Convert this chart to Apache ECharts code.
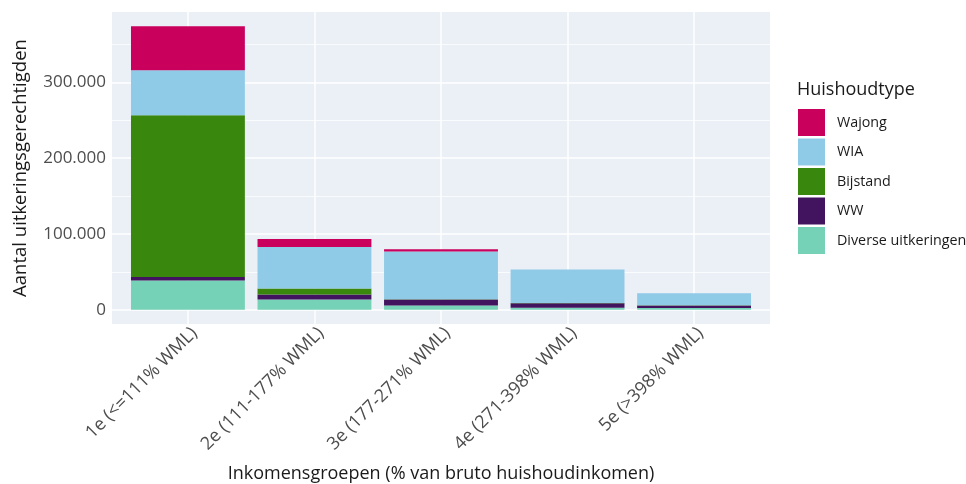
<!DOCTYPE html>
<html><head><meta charset="utf-8">
<script src="https://cdn.jsdelivr.net/npm/echarts@6/dist/echarts.min.js"></script>
<style>html,body{margin:0;padding:0;background:#fff}#c{width:966px;height:484px}</style>
</head><body><div id="c"></div>
<script>
// ---- data ----
const categories = ['1e (<=111% WML)', '2e (111-177% WML)', '3e (177-271% WML)', '4e (271-398% WML)', '5e (>398% WML)'];
const yTicks = [0, 100000, 200000, 300000];
const yMinorTicks = [50000, 150000, 250000, 350000];
const diverse  = [38800, 13700, 5600, 2600, 2400];
const ww       = [4400, 6600, 8000, 6200, 3300];
const bijstand = [213400, 7900, 400, 200, 200];
const wia      = [59300, 54500, 62800, 44000, 15800];
const wajong   = [58100, 10600, 3200, 200, 200];
const legendOrder = ['Wajong', 'WIA', 'Bijstand', 'WW', 'Diverse uitkeringen'];

const colors = {
  'Wajong': '#CA005D', 'WIA': '#8FCAE7', 'Bijstand': '#39870C',
  'WW': '#42145F', 'Diverse uitkeringen': '#76D2B6'
};
const stackSeries = [
  ['Diverse uitkeringen', diverse], ['WW', ww], ['Bijstand', bijstand], ['WIA', wia], ['Wajong', wajong]
];
const positions = categories.map((c, i) => i + 1);
const totals = categories.map((c, i) => stackSeries.reduce((s, d) => s + d[1][i], 0));
const maxTotal = Math.max(...totals);
const FONT = 'Open Sans';
const fmt = v => String(Math.round(v)).replace(/\B(?=(\d{3})+(?!\d))/g, '.');

const chart = echarts.init(document.getElementById('c'), null, { renderer: 'canvas' });
chart.setOption({
  animation: false,
  textStyle: { fontFamily: FONT },
  title: {
    text: 'Huishoudtype', left: 792, top: 76,
    textStyle: { fontFamily: FONT, fontSize: 18, fontWeight: 'normal', color: '#1a1a1a' }
  },
  legend: {
    data: legendOrder, orient: 'vertical', left: 793, top: 104,
    icon: 'rect', itemWidth: 27, itemHeight: 27, itemGap: 2.5,
    textStyle: { fontFamily: FONT, fontSize: 14.3, color: '#1a1a1a', padding: [0, 0, 0, 7] }
  },
  grid: {
    left: 112, top: 12, width: 658, height: 312,
    outerBoundsMode: 'none', containLabel: false,
    show: true, backgroundColor: '#EBF0F7', borderWidth: 0
  },
  xAxis: {
    type: 'value', min: 0.4, max: 5.6,
    name: 'Inkomensgroepen (% van bruto huishoudinkomen)',
    nameLocation: 'middle', nameGap: 141,
    nameTextStyle: { fontFamily: FONT, fontSize: 18, color: '#1a1a1a' },
    axisLine: { show: false },
    axisTick: { show: false, customValues: positions },
    axisLabel: {
      customValues: positions, rotate: 45, margin: 0, verticalAlign: 'top',
      formatter: v => categories[Math.round(v) - 1] || '',
      fontFamily: FONT, fontSize: 18, color: '#4d4d4d'
    },
    splitLine: { show: true, lineStyle: { color: '#ffffff', width: 1.5 } }
  },
  yAxis: [{
    type: 'value', min: -0.05 * maxTotal, max: 1.05 * maxTotal,
    name: 'Aantal uitkeringsgerechtigden',
    nameLocation: 'middle', nameGap: 82, nameRotate: 90,
    nameTextStyle: { fontFamily: FONT, fontSize: 18.5, color: '#1a1a1a' },
    axisLine: { show: false },
    axisTick: { show: false, customValues: yTicks },
    axisLabel: { customValues: yTicks, formatter: fmt, fontFamily: FONT, fontSize: 17, color: '#4d4d4d', margin: 6 },
    splitLine: { show: true, lineStyle: { color: '#ffffff', width: 1.5 } }
  }, {
    type: 'value', min: -0.05 * maxTotal, max: 1.05 * maxTotal, position: 'left',
    axisLine: { show: false },
    axisTick: { show: false, customValues: yMinorTicks },
    axisLabel: { show: false, customValues: yMinorTicks },
    splitLine: { show: true, lineStyle: { color: '#ffffff', width: 0.7 } }
  }],
  series: stackSeries.map(([name, vals]) => ({
    name, type: 'bar', stack: 'total', barWidth: '90%',
    itemStyle: { color: colors[name] },
    emphasis: { disabled: true },
    encode: { x: 1, y: 0 },
    data: vals.map((v, i) => [v, positions[i]])
  }))
});
</script>
</body></html>
